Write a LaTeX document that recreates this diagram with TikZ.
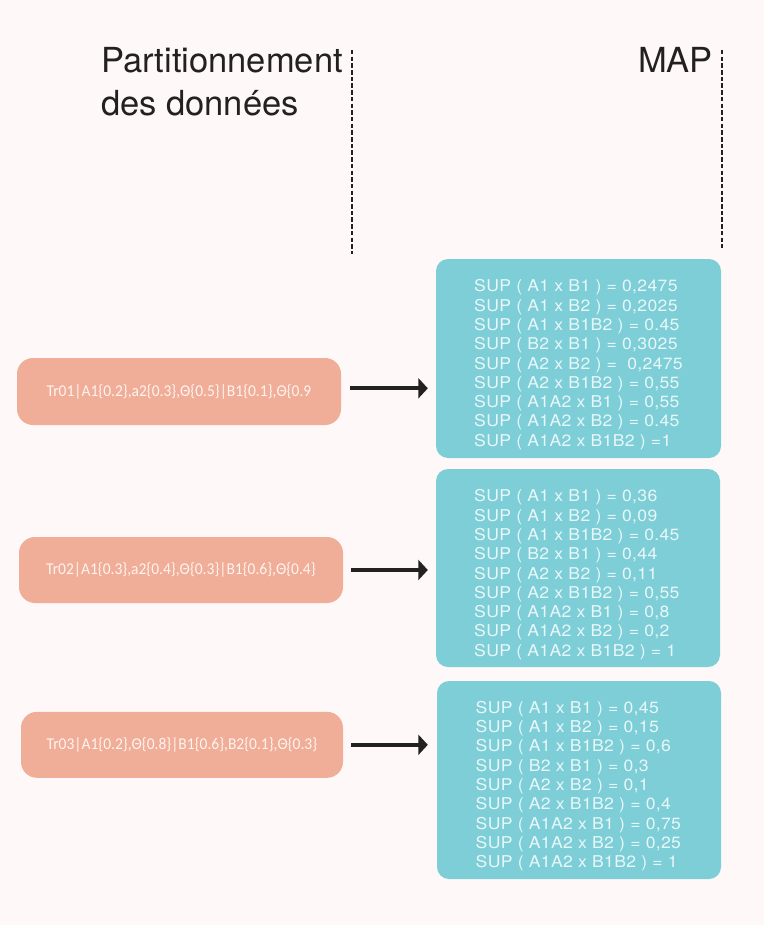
\documentclass[tikz,border=0pt]{standalone}
\usepackage{fontspec}
\setmainfont{TeX Gyre Heros}
\newfontfamily\recfont[FakeStretch=0.94]{Carlito}
\newfontfamily\supfont[FakeStretch=1.08,LetterSpace=2]{TeX Gyre Heros}
\usetikzlibrary{calc,arrows.meta}

\definecolor{pagebg}{RGB}{254,249,248}
\definecolor{recfill}{RGB}{240,173,152}
\definecolor{mapfill}{RGB}{126,206,215}
\definecolor{maptext}{RGB}{232,247,249}
\definecolor{rectext}{RGB}{255,244,240}
\definecolor{ink}{RGB}{35,32,33}

\tikzset{
  title/.style={font=\fontsize{34.5}{40}\selectfont, text=ink, inner sep=0pt},
  sepline/.style={draw=ink, line width=1.6pt, dash pattern=on 4.5pt off 2.2pt},
  recbox/.style={fill=recfill, rounded corners=16pt, minimum height=66pt,
    font=\recfont\fontsize{16.5}{19}\selectfont, text=rectext, inner sep=0pt},
  mapbox/.style={fill=mapfill, rounded corners=12pt, minimum width=285pt,
    minimum height=199pt, inner sep=0pt},
  maplines/.style={font=\supfont\fontsize{16.3}{19.3}\selectfont, text=maptext,
    align=left, inner sep=0pt, anchor=north west},
  flow/.style={draw=ink, line width=4pt,
    -{Triangle[length=9.5pt,width=20pt]}},
}

\begin{document}
\begin{tikzpicture}[x=1pt,y=-1pt]
\fill[pagebg] (0,0) rectangle (764,925);
\useasboundingbox (0,0) rectangle (764,925);

% column headings
\node[title, anchor=base west] (h1) at (101,72.5) {Partitionnement};
\node[title, anchor=base west] (h2) at (101,115.5) {des données};
\node[title, anchor=base east] (h3) at (713,72.5) {MAP};

% column separators
\coordinate (d1a) at (352,50);
\coordinate (d1b) at (352,254);
\coordinate (d2a) at (722,50);
\coordinate (d2b) at (722,248);
\draw[sepline] (d1a) -- (d1b);
\draw[sepline] (d2a) -- (d2b);

% data partitions
\node[recbox, minimum width=324pt, minimum height=67pt] (s1) at (179,391.5)
  {Tr01|A1\{0.2\},a2\{0.3\},Θ\{0.5\}|B1\{0.1\},Θ\{0.9};
\node[recbox, minimum width=324pt] (s2) at (181,570)
  {Tr02|A1\{0.3\},a2\{0.4\},Θ\{0.3\}|B1\{0.6\},Θ\{0.4\}};
\node[recbox, minimum width=322pt] (s3) at (182,744.8)
  {Tr03|A1\{0.2\},Θ\{0.8\}|B1\{0.6\},B2\{0.1\},Θ\{0.3\}};

% map results
\node[mapbox] (m1) at (578.5,358.5) {};
\node[mapbox, minimum width=284pt, minimum height=198pt] (m2) at (578,568) {};
\node[mapbox, minimum width=284pt, minimum height=198pt] (m3) at (579,780) {};

\node[maplines] (m1t) at (474,279.5) {SUP ( A1 x B1 ) = 0,2475\\
SUP ( A1 x B2 ) = 0,2025\\
SUP ( A1 x B1B2 ) = 0.45\\
SUP ( B2 x B1 ) = 0,3025\\
SUP ( A2 x B2 ) = \ 0,2475\\
SUP ( A2 x B1B2 ) = 0,55\\
SUP ( A1A2 x B1 ) = 0,55\\
SUP ( A1A2 x B2 ) = 0.45\\
SUP ( A1A2 x B1B2 ) =1};

\node[maplines] (m2t) at (474,489.5) {SUP ( A1 x B1 ) = 0,36\\
SUP ( A1 x B2 ) = 0,09\\
SUP ( A1 x B1B2 ) = 0.45\\
SUP ( B2 x B1 ) = 0,44\\
SUP ( A2 x B2 ) = 0,11\\
SUP ( A2 x B1B2 ) = 0,55\\
SUP ( A1A2 x B1 ) = 0,8\\
SUP ( A1A2 x B2 ) = 0,2\\
SUP ( A1A2 x B1B2 ) = 1};

\node[maplines] (m3t) at (475.5,701) {SUP ( A1 x B1 ) = 0,45\\
SUP ( A1 x B2 ) = 0,15\\
SUP ( A1 x B1B2 ) = 0,6\\
SUP ( B2 x B1 ) = 0,3\\
SUP ( A2 x B2 ) = 0,1\\
SUP ( A2 x B1B2 ) = 0,4\\
SUP ( A1A2 x B1 ) = 0,75\\
SUP ( A1A2 x B2 ) = 0,25\\
SUP ( A1A2 x B1B2 ) = 1};

% partition -> map
\draw[flow] ($(s1.east)+(9,-3.2)$) -- ($(s1.east -| m1.west)+(-8,-3.2)$);
\draw[flow] ($(s2.east)+(8,0)$) -- ($(s2.east -| m2.west)+(-8,0)$);
\draw[flow] ($(s3.east)+(8,0)$) -- ($(s3.east -| m3.west)+(-9,0)$);
\end{tikzpicture}
\end{document}
